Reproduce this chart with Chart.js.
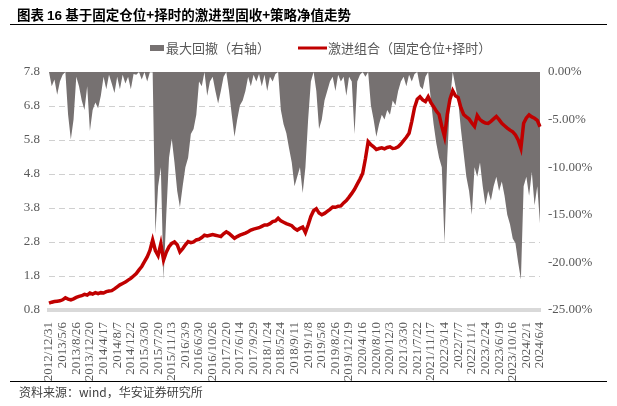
<!DOCTYPE html>
<html>
<head>
<meta charset="utf-8">
<script src="https://cdn.jsdelivr.net/npm/chart.js@4.4.1/dist/chart.umd.min.js"></script>
<style>
  html, body { margin: 0; padding: 0; background: #fff; }
  #wrap { position: relative; width: 617px; height: 406px; overflow: hidden; }
  #chart { position: absolute; left: 0; top: 0; }
  #title {
    position: absolute; left: 10px; top: 0; width: 597px; height: 25px;
    border-bottom: 1.5px solid #000;
    font: bold 13.5px "Noto Sans CJK SC", sans-serif; line-height: 28px;
    color: #000; padding-left: 7px; box-sizing: border-box; white-space: nowrap;
  }
  #title .num { font-family: "Liberation Sans", Arial, sans-serif; }
  #foot {
    position: absolute; left: 10px; top: 381px; width: 597px; height: 25px;
    border-top: 1.5px solid #000; box-sizing: border-box;
    font: 12px "Noto Sans CJK SC", sans-serif; color: #404040;
    padding-left: 9px; line-height: 20px; white-space: nowrap;
  }
</style>
</head>
<body>
<div id="wrap">
  <canvas id="chart" width="617" height="406"></canvas>
  <div id="title">图表 <span class="num">16</span> 基于固定仓位+择时的激进型固收+策略净值走势</div>
  <div id="foot">资料来源：wind，华安证券研究所</div>
</div>
<script>
/* =====================
   DATA
===================== */
const tickLabels = [
  "2012/12/31", "2013/5/6", "2013/8/26", "2013/12/20", "2014/4/17", "2014/8/7",
  "2014/12/2", "2015/3/30", "2015/7/20", "2015/11/13", "2016/3/9", "2016/6/30",
  "2016/10/26", "2017/2/20", "2017/6/14", "2017/9/29", "2018/1/24", "2018/5/24",
  "2018/9/11", "2019/1/8", "2019/5/8", "2019/8/26", "2019/12/19", "2020/4/16",
  "2020/8/10", "2020/12/3", "2021/3/30", "2021/7/22", "2021/11/17", "2022/3/14",
  "2022/7/7", "2022/11/1", "2023/2/24", "2023/6/19", "2023/10/16", "2024/2/1",
  "2024/6/4"
];
const pointsPerTick = 5;

// 激进组合（固定仓位+择时）净值
const navValues = [
  1.00, 1.03, 1.05, 1.06, 1.07, 1.10, 1.16, 1.12, 1.10, 1.13,
  1.17, 1.20, 1.22, 1.26, 1.24, 1.30, 1.27, 1.31, 1.28, 1.31,
  1.30, 1.34, 1.36, 1.37, 1.42, 1.48, 1.54, 1.58, 1.62, 1.68,
  1.73, 1.80, 1.87, 1.98, 2.08, 2.22, 2.36, 2.55, 2.86, 2.55,
  2.40, 2.75, 2.27, 2.50, 2.66, 2.76, 2.80, 2.72, 2.51, 2.60,
  2.72, 2.81, 2.78, 2.80, 2.86, 2.88, 2.93, 3.00, 2.98, 3.00,
  3.02, 3.00, 2.98, 2.96, 3.04, 3.10, 3.05, 2.98, 2.91, 2.96,
  3.00, 3.03, 3.06, 3.10, 3.15, 3.18, 3.20, 3.22, 3.26, 3.30,
  3.30, 3.34, 3.40, 3.42, 3.50, 3.42, 3.38, 3.34, 3.31, 3.28,
  3.20, 3.15, 3.20, 3.24, 3.08, 3.30, 3.55, 3.72, 3.78, 3.65,
  3.60, 3.64, 3.70, 3.76, 3.83, 3.82, 3.85, 3.86, 3.95, 4.02,
  4.12, 4.23, 4.35, 4.50, 4.65, 4.82, 5.25, 5.75, 5.66, 5.60,
  5.52, 5.55, 5.57, 5.54, 5.58, 5.60, 5.55, 5.56, 5.60, 5.68,
  5.78, 5.88, 6.00, 6.35, 6.75, 7.00, 7.07, 6.98, 6.93, 7.07,
  6.90, 6.78, 6.65, 6.55, 6.20, 5.90, 6.55, 7.00, 7.25, 7.10,
  7.05, 6.75, 6.55, 6.48, 6.42, 6.30, 6.20, 6.52, 6.40, 6.34,
  6.30, 6.29, 6.35, 6.42, 6.49, 6.40, 6.29, 6.22, 6.15, 6.09,
  6.04, 5.95, 5.80, 5.56, 6.29, 6.45, 6.54, 6.48, 6.44, 6.38,
  6.19
];

// 最大回撤（右轴），单位 %
const drawdownValues = [
  0.0, -1.5, -0.8, -2.4, -1.0, -0.3, 0.0, -4.5, -7.1, -5.0,
  -0.5, -1.5, -3.0, -4.0, -1.5, -6.2, -4.0, -3.2, -3.8, -2.5,
  -0.5, -1.8, -0.3, -1.2, -2.2, -0.5, -1.8, -0.3, -1.2, -0.5,
  -1.8, -0.2, -0.3, 0.0, -0.8, 0.0, -1.0, 0.0, 0.0, -17.0,
  -12.0, -10.0, -21.8, -15.0, -9.0, -7.0, -9.5, -12.5, -14.2, -12.0,
  -10.0, -9.0, -6.5, -6.0, -4.5, -1.0, -1.5, 0.0, -2.5, -1.0,
  -0.5, -2.0, -3.3, -2.0, -0.5, 0.0, -2.0, -4.5, -6.8, -5.0,
  -3.5, -3.0, -2.0, -0.5, -1.5, -0.3, -1.0, -0.2, -1.5, -0.3,
  -2.0, -0.5, -1.0, -0.2, 0.0, -4.0, -5.5, -6.4, -8.0, -9.5,
  -12.0, -11.0, -10.0, -12.7, -10.0, -5.0, -1.0, 0.0, -2.0, -6.0,
  -5.0, -3.0, -2.0, -1.0, -0.5, -2.0, -0.3, -1.0, -0.5, -2.5,
  -0.5, -1.0, -6.5, -1.0, -0.3, 0.0, -0.5, 0.0, -3.5, -5.0,
  -6.8, -5.5, -4.5, -5.0, -4.0, -4.5, -3.0, -3.5, -2.0, -1.0,
  -0.5, -1.5, -0.3, -1.0, -0.2, 0.0, -1.5, -1.8, -0.5, 0.0,
  -3.0, -5.5, -7.5, -9.0, -10.0, -18.0, -9.0, -3.0, 0.0, -1.5,
  -3.0, -6.0, -8.5, -11.0, -12.5, -15.0, -10.0, -11.0, -9.5, -12.0,
  -14.0, -12.5, -13.5, -12.0, -11.0, -12.5, -11.5, -13.0, -15.0, -16.0,
  -17.5, -18.0, -20.0, -21.8, -12.0, -11.0, -13.0, -10.5, -14.0, -12.0,
  -15.9
];

const leftTicks = { min: 0.8, max: 7.8, step: 1 };
const rightTicks = { min: -25, max: 0, step: 5 };

/* =====================
   STYLE
===================== */
const RED = "#C00000";
const GREY = "#767171";
const TICK_FONT = { family: '"Liberation Serif", "Times New Roman", serif', size: 13 };
const TICK_COLOR = "#595959";

const labels = navValues.map((_, i) =>
  i % pointsPerTick === 0 ? tickLabels[i / pointsPerTick] : ""
);

// legend drawn on the canvas, fixed row above the plot
const topLegend = {
  id: "topLegend",
  afterDraw(chart) {
    const ctx = chart.ctx;
    const y = 48;
    ctx.save();
    ctx.font = '13px "Noto Sans CJK SC", sans-serif';
    ctx.textBaseline = "middle";
    ctx.fillStyle = GREY;
    ctx.fillRect(150, y - 3, 14, 6);
    ctx.fillStyle = "#595959";
    ctx.fillText(chart.data.datasets[1].label, 166, y);
    ctx.strokeStyle = RED;
    ctx.lineWidth = 3;
    ctx.beginPath();
    ctx.moveTo(298, y);
    ctx.lineTo(327, y);
    ctx.stroke();
    ctx.fillText(chart.data.datasets[0].label, 328, y);
    ctx.restore();
  }
};

new Chart(document.getElementById("chart"), {
  type: "line",
  data: {
    labels,
    datasets: [
      {
        label: "激进组合（固定仓位+择时）",
        data: navValues,
        yAxisID: "y",
        borderColor: RED,
        backgroundColor: RED,
        borderWidth: 3.5,
        pointRadius: 0,
        tension: 0,
        order: 1
      },
      {
        label: "最大回撤（右轴）",
        data: drawdownValues,
        yAxisID: "y1",
        borderColor: GREY,
        backgroundColor: GREY,
        borderWidth: 0,
        pointRadius: 0,
        fill: "origin",
        tension: 0,
        order: 2
      }
    ]
  },
  options: {
    responsive: false,
    animation: false,
    layout: { padding: { top: 72, left: 0, right: 0, bottom: 0 } },
    plugins: {
      legend: { display: false },
      tooltip: { enabled: false }
    },
    scales: {
      x: {
        type: "category",
        offset: false,
        grid: { display: false },
        border: { display: true, color: "#d9d9d9", width: 4 },
        ticks: {
          autoSkip: false,
          minRotation: 90,
          maxRotation: 90,
          padding: 4,
          font: TICK_FONT,
          color: TICK_COLOR,
          callback(v, i) {
            return labels[i] ? labels[i] : null;
          }
        },
        afterFit(s) { s.height = 96; }
      },
      y: {
        position: "left",
        min: leftTicks.min,
        max: leftTicks.max,
        grid: { color: "#d0d0d0", lineWidth: 1, drawTicks: false },
        border: { display: false, dash: [6, 4] },
        ticks: {
          stepSize: leftTicks.step,
          padding: 9,
          font: TICK_FONT,
          color: TICK_COLOR,
          callback: v => v.toFixed(1)
        },
        afterFit(s) { s.width = 49; }
      },
      y1: {
        position: "right",
        min: rightTicks.min,
        max: rightTicks.max,
        grid: { display: false, drawTicks: false },
        border: { display: false },
        ticks: {
          stepSize: rightTicks.step,
          padding: 8,
          font: TICK_FONT,
          color: TICK_COLOR,
          callback: v => v.toFixed(2) + "%"
        },
        afterFit(s) { s.width = 77; }
      }
    }
  },
  plugins: [topLegend]
});
</script>
</body>
</html>
